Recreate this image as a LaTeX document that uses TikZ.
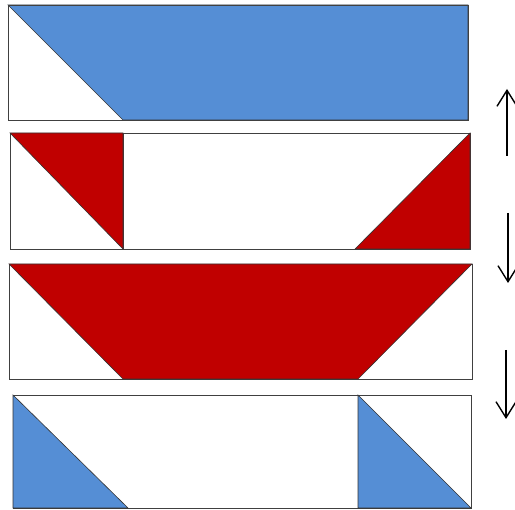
\documentclass[tikz,border=0pt]{standalone}
\usetikzlibrary{arrows.meta}
\definecolor{pblue}{HTML}{558ED5}
\definecolor{pred}{HTML}{C00000}
\definecolor{edge}{HTML}{404040}
\begin{document}
\begin{tikzpicture}[x=1pt,y=-1pt,
  box/.style={draw=edge,line width=0.9pt,fill=white},
  outline/.style={draw=edge,line width=0.9pt},
  bluepart/.style={fill=pblue,draw=black!80,line width=0.6pt},
  redpart/.style={fill=pred,draw=black!80,line width=0.6pt},
  movearrow/.style={line width=1.6pt,-{Straight Barb[length=16pt,width=20pt,line width=1.4pt]}}]
\useasboundingbox (0,0) rectangle (515,510);
% row 1
\draw[box] (8,5) rectangle (468,120);
\draw[bluepart] (8,5) -- (468,5) -- (468,120) -- (123,120) -- cycle;
\draw[outline] (8,5) rectangle (468,120);
% row 2
\draw[box] (10,133) rectangle (123,249);
\draw[box] (123,133) rectangle (470,249);
\draw[redpart] (10,133) -- (123,133) -- (123,249) -- cycle;
\draw[redpart] (470,133) -- (470,249) -- (355,249) -- cycle;
% row 3
\draw[box] (9,264) rectangle (472,379);
\draw[redpart] (9,264) -- (472,264) -- (358,379) -- (123,379) -- cycle;
% row 4
\draw[box] (13,395) rectangle (358,508);
\draw[box] (358,395) rectangle (471,508);
\draw[bluepart] (13,395) -- (13,508) -- (128,508) -- cycle;
\draw[bluepart] (358,395) -- (358,508) -- (471,508) -- cycle;
% arrows
\coordinate (a1s) at (507,156); \coordinate (a1e) at (507,89);
\coordinate (a2s) at (508,213); \coordinate (a2e) at (508,283);
\coordinate (a3s) at (506,350); \coordinate (a3e) at (506,419);
\draw[movearrow] (a1s) -- (a1e);
\draw[movearrow] (a2s) -- (a2e);
\draw[movearrow] (a3s) -- (a3e);
\end{tikzpicture}
\end{document}
